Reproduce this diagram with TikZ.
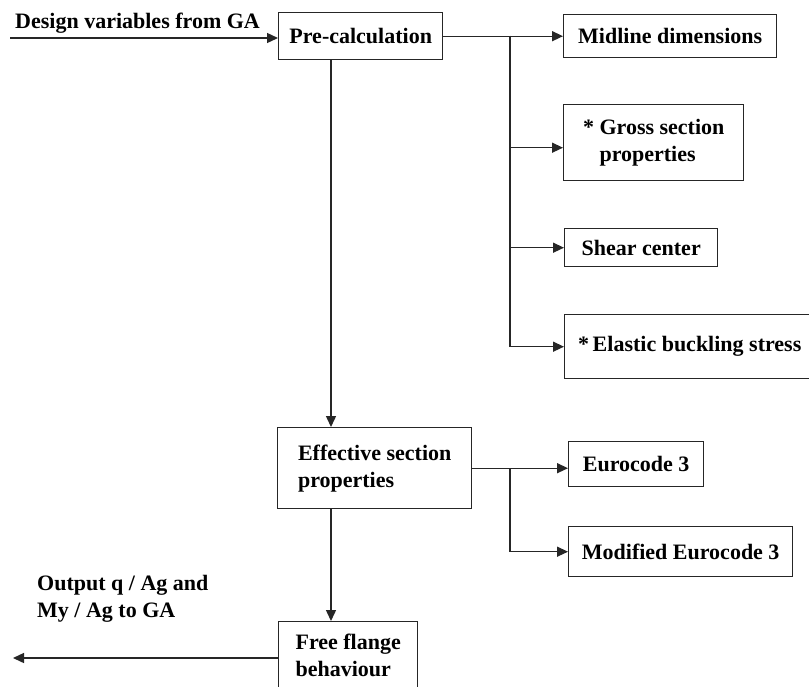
\documentclass[tikz,border=0pt]{standalone}
\usepackage{fontspec}
\setmainfont{Liberation Serif}
\usetikzlibrary{arrows.meta}
\begin{document}
\begin{tikzpicture}[x=1pt,y=-1pt,
  lbl/.style={font=\fontsize{22}{27}\selectfont\bfseries, inner sep=0pt, align=left},
  box/.style={draw=black!85, line width=1.4pt, inner sep=0pt, anchor=north west,
    font=\fontsize{22}{27}\selectfont\bfseries, align=left},
  conn/.style={draw=black!85, line width=1.4pt},
  arr/.style={conn, -{Triangle[length=11pt,width=10pt]}}]
\clip (0,0) rectangle (809,686);
\fill[white] (0,0) rectangle (809,686);
% boxes
\node[box, minimum width=164, minimum height=47] (pre) at (278,12) {Pre-calculation};
\node[box, minimum width=213, minimum height=43] (mid) at (563,14) {Midline dimensions};
\node[box, minimum width=180, minimum height=76] (gross) at (563,104) {* Gross section\\\hphantom{* }properties};
\node[box, minimum width=153, minimum height=38] (shear) at (564,228) {Shear center};
\node[box, minimum width=250, minimum height=64] (elastic) at (564,314) {*\,Elastic buckling stress};
\node[box, minimum width=194, minimum height=81] (eff) at (277,427) {Effective section\\properties};
\node[box, minimum width=135, minimum height=45] (euro) at (568,441) {Eurocode 3};
\node[box, minimum width=224, minimum height=50] (mod) at (568,526) {Modified Eurocode 3};
\node[box, minimum width=139, minimum height=68] (free) at (278,621) {Free flange\\behaviour};
% labels
\node[lbl, anchor=base west] (inlbl) at (15,28) {Design variables from GA};
\node[lbl, anchor=base west] (outlbl) at (37,617) {Output q / Ag and\\My / Ag to GA};
% connectors
\coordinate (inS) at (10,38);
\draw[arr] (inS) -- (inS -| pre.west);
\draw[arr] (pre.east) -- (mid.west);
\coordinate (br) at (510,35.5);
\draw[conn] (br) -- (br |- elastic.west);
\draw[arr] ([yshift=-5pt]gross.west -| br) -- ([yshift=-5pt]gross.west);
\draw[arr] (br |- shear.west) -- (shear.west);
\draw[arr] (br |- elastic.west) -- (elastic.west);
\coordinate (v1) at (331,0);
\draw[arr] (v1 |- pre.south) -- (v1 |- eff.north);
\draw[arr] (v1 |- eff.south) -- (v1 |- free.north);
\draw[arr] (eff.east) -- (eff.east -| euro.west);
\coordinate (br2) at (510,0);
\draw[arr] (br2 |- eff.east) |- (mod.west);
\coordinate (outS) at (13,658);
\draw[arr] (outS -| free.west) -- (outS);
\end{tikzpicture}
\end{document}
